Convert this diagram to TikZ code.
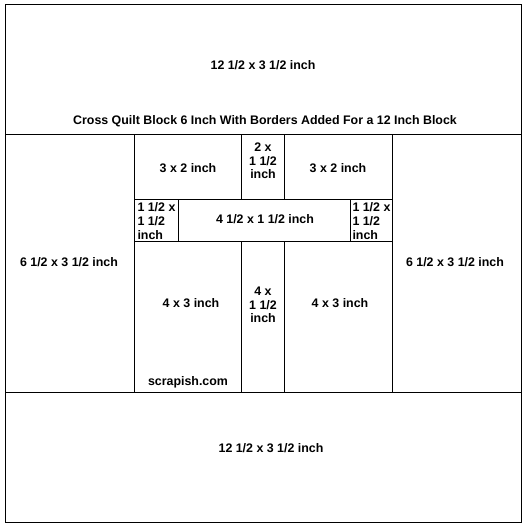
\documentclass[tikz,border=0pt]{standalone}
\usepackage{fontspec}
\setmainfont{Liberation Sans}
\begin{document}
\begin{tikzpicture}[x=0.75pt, y=-0.75pt, line width=0.75pt,
        size/.style={font=\bfseries\fontsize{9.3}{10.2}\selectfont, align=center, inner sep=0pt},
        corner/.style={size, align=left, anchor=west}]
    \useasboundingbox (0,0) rectangle (527,528);
    % outer block and borders
    \draw (5,5) rectangle (521.5,522.5);
    \draw (5,134.5) -- (521.5,134.5);
    \draw (5,392.5) -- (521.5,392.5);
    \draw (134.5,134.5) -- (134.5,392.5);
    \draw (392.5,134.5) -- (392.5,392.5);
    % cross block rows
    \draw (134.5,199) -- (392.5,199);
    \draw (134.5,241.5) -- (392.5,241.5);
    \draw (241,134.5) -- (241,199);
    \draw (284.5,134.5) -- (284.5,199);
    \draw (178,199) -- (178,241.5);
    \draw (350,199) -- (350,241.5);
    \draw (241,241.5) -- (241,392.5);
    \draw (284.5,241.5) -- (284.5,392.5);
    % labels
    \node[size] (top) at (263,65) {12 1/2 x 3 1/2 inch};
    \node[size] (title) at (265,121) {Cross Quilt Block 6 Inch With Borders Added For a 12 Inch Block};
    \node[size] (left) at (69,262) {6 1/2 x 3 1/2 inch};
    \node[size] (right) at (455,262) {6 1/2 x 3 1/2 inch};
    \node[size] (tl) at (188,168) {3 x 2 inch};
    \node[size] (tc) at (263,161) {2 x\\1 1/2\\inch};
    \node[size] (tr) at (338,168) {3 x 2 inch};
    \node[corner] (ml) at (137,221) {1 1/2 x\\1 1/2\\inch};
    \node[size] (mc) at (265,219) {4 1/2 x 1 1/2 inch};
    \node[corner] (mr) at (352,221) {1 1/2 x\\1 1/2\\inch};
    \node[size] (bl) at (191,303) {4 x 3 inch};
    \node[size] (bc) at (263,305) {4 x\\1 1/2\\inch};
    \node[size] (br) at (340,303) {4 x 3 inch};
    \node[size] (site) at (188,382) {scrapish.com};
    \node[size] (bottom) at (271,448) {12 1/2 x 3 1/2 inch};
\end{tikzpicture}
\end{document}
